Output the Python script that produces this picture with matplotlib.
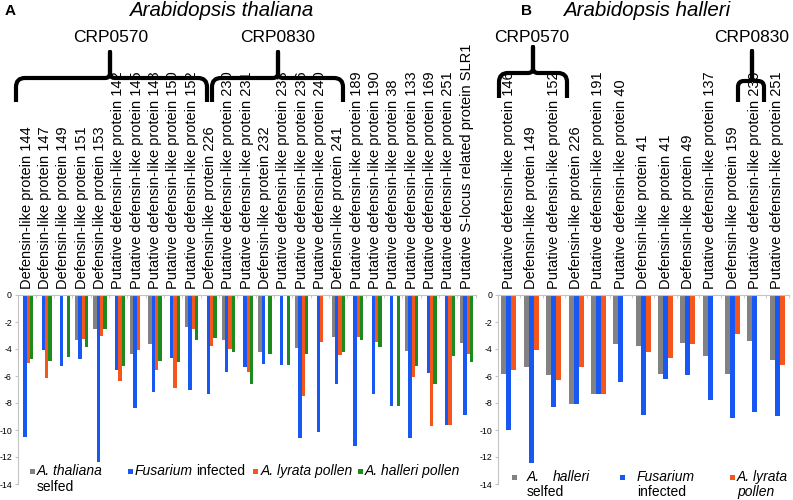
import numpy as np
import matplotlib.pyplot as plt
from matplotlib.patches import Rectangle, PathPatch
from matplotlib.path import Path

plt.rcParams['font.family'] = ['Liberation Sans', 'DejaVu Sans']
plt.rcParams['axes.unicode_minus'] = False

# panel A: Arabidopsis thaliana
labels_a = ['Defensin-like protein 144', 'Defensin-like protein 147', 'Defensin-like protein 149',
            'Defensin-like protein 151', 'Defensin-like protein 153',
            'Putative defensin-like protein 142', 'Putative defensin-like protein 145',
            'Putative defensin-like protein 148', 'Putative defensin-like protein 150',
            'Putative defensin-like protein 152', 'Defensin-like protein 226',
            'Putative defensin-like protein 230', 'Putative defensin-like protein 231',
            'Defensin-like protein 232', 'Putative defensin-like protein 233',
            'Putative defensin-like protein 236', 'Putative defensin-like protein 240',
            'Defensin-like protein 241', 'Putative defensin-like protein 189',
            'Putative defensin-like protein 190', 'Putative defensin-like protein 38',
            'Putative defensin-like protein 133', 'Putative defensin-like protein 169',
            'Putative defensin-like protein 251', 'Putative S-locus related protein SLR1']
nan = np.nan
selfed_a = [nan, nan, nan, -3.3, -2.5, nan, -4.4, -3.65, nan, -2.4, nan, -3.3, nan,
            -4.25, nan, -3.95, nan, -3.13, nan, nan, nan, -4.12, nan, nan, -3.58]
fusarium_a = [-10.5, -4.07, -5.23, -4.77, -12.4, -5.56, -8.4, -7.16, -4.69, -7.06, -7.33, -5.68, -5.36,
              -5.1, -5.19, -10.6, -10.17, -6.59, -11.16, -7.33, -8.2, -10.6, -5.8, -9.63, -8.89]
lyrata_a = [-5.06, -6.17, nan, -3.26, -3.01, -6.37, -4.07, -5.56, -6.86, -2.5, -3.8, -4.02, -5.68,
            nan, nan, -7.46, -3.46, -4.44, -3.09, -3.5, nan, -6.07, -9.7, -9.63, -4.37]
halleri_a = [-4.77, -4.89, -4.59, -3.85, -2.54, -5.23, nan, -4.89, -4.94, -3.33, -3.2, -4.2, -6.6,
             -4.4, -5.19, -4.4, nan, -4.2, -3.33, -3.88, -8.2, -5.26, -6.6, -4.52, -4.94]

# panel B: Arabidopsis halleri
labels_b = ['Putative defensin-like protein 146', 'Defensin-like protein 149',
            'Putative defensin-like protein 152', 'Defensin-like protein 226',
            'Putative defensin-like protein 191', 'Putative defensin-like protein 40',
            'Defensin-like protein 41', 'Defensin-like protein 41', 'Defensin-like protein 49',
            'Putative defensin-like protein 137', 'Defensin-like protein 159',
            'Putative defensin-like protein 239', 'Putative defensin-like protein 251']
selfed_b = [-5.85, -5.31, -5.93, -8.1, -7.33, -3.63, -3.78, -5.85, -3.58, -4.52, -5.88, -3.41, -4.81]
fusarium_b = [-10.0, -12.47, -8.32, -8.07, -7.33, -6.42, -8.89, -6.25, -5.93, -7.78, -9.14, -8.64, -8.94]
lyrata_b = [-5.56, -4.1, -6.3, -5.31, -7.33, nan, -4.25, -4.64, -3.65, nan, -2.91, nan, -5.19]

GREY, BLUE, ORANGE, GREEN = '#828282', '#1858f2', '#f5561c', '#1c8a1c'
AXC = '#c4c4c4'

W, H = 793, 500
fig = plt.figure(figsize=(W / 100, H / 100), dpi=100)

def fx(x):
    return x / W

def fy(y):
    return 1 - y / H

ax_a = fig.add_axes([fx(17.5), fy(484), (475.8 - 17.5) / W, (484 - 295) / H])
ax_b = fig.add_axes([fx(497.8), fy(484), (788.5 - 497.8) / W, (484 - 295) / H])

def setup(ax, labels):
    n = len(labels)
    ax.set_xlim(-0.5, n - 0.5)
    ax.set_ylim(-14, 0)
    ax.xaxis.tick_top()
    ax.set_xticks(range(n))
    ax.set_xticklabels(labels, rotation=90, fontsize=10.5)
    ax.set_xticks(np.arange(n + 1) - 0.5, minor=True)
    ax.tick_params(axis='x', which='major', length=0, pad=4)
    ax.tick_params(axis='x', which='minor', length=2.5, color=AXC, direction='in')
    ax.set_yticks(np.arange(-14, 1, 2))
    ax.tick_params(axis='y', labelsize=6.3, length=2.5, color=AXC, pad=1.5)
    for s in ['bottom', 'right']:
        ax.spines[s].set_visible(False)
    for s in ['top', 'left']:
        ax.spines[s].set_color(AXC)
        ax.spines[s].set_linewidth(0.8)

setup(ax_a, labels_a)
setup(ax_b, labels_b)

xa = np.arange(len(labels_a))
wa = 0.18
for k, (vals, c) in enumerate([(selfed_a, GREY), (fusarium_a, BLUE), (lyrata_a, ORANGE), (halleri_a, GREEN)]):
    ax_a.bar(xa + (k - 1.5) * wa, vals, wa, color=c, linewidth=0)

xb = np.arange(len(labels_b))
wb = 0.224
for k, (vals, c) in enumerate([(selfed_b, GREY), (fusarium_b, BLUE), (lyrata_b, ORANGE)]):
    ax_b.bar(xb + (k - 1) * wb, vals, wb, color=c, linewidth=0)

# titles and group labels
fig.text(fx(5), fy(11), 'A', weight='bold', fontsize=11, ha='left', va='center')
fig.text(fx(221), fy(11), 'Arabidopsis thaliana', style='italic', fontsize=14.8, ha='center', va='center')
fig.text(fx(527), fy(11), 'B', weight='bold', fontsize=11, ha='center', va='center')
fig.text(fx(647), fy(11), 'Arabidopsis halleri', style='italic', fontsize=14.8, ha='center', va='center')
for x, s in [(111, 'CRP0570'), (278, 'CRP0830'), (532, 'CRP0570'), (752, 'CRP0830')]:
    fig.text(fx(x), fy(37), s, fontsize=12.5, ha='center', va='center')

def brace(x0, x1, xc, yh, ybot, ypeak, r=9, rc=5):
    pts = [(x0, ybot), (x0, yh + r), (x0, yh), (x0 + r, yh), (xc - rc, yh),
           (xc, yh), (xc, yh - rc), (xc, ypeak), (xc, yh - rc), (xc, yh), (xc + rc, yh),
           (x1 - r, yh), (x1, yh), (x1, yh + r), (x1, ybot)]
    codes = [Path.MOVETO, Path.LINETO, Path.CURVE3, Path.CURVE3, Path.LINETO,
             Path.CURVE3, Path.CURVE3, Path.LINETO, Path.LINETO, Path.CURVE3, Path.CURVE3,
             Path.LINETO, Path.CURVE3, Path.CURVE3, Path.LINETO]
    verts = [(fx(x), fy(y)) for x, y in pts]
    fig.add_artist(PathPatch(Path(verts, codes), transform=fig.transFigure, fill=False,
                             lw=3, edgecolor='black', capstyle='butt', joinstyle='round'))

brace(16, 207, 110, 78, 102, 52)
brace(212, 343, 278, 78, 102, 52)
brace(499, 567, 533, 73, 98, 47)
brace(738, 764, 752, 81, 102, 51, r=6, rc=4)

# legends
def square(x, y, c):
    fig.add_artist(Rectangle((fx(x), fy(y + 2.5)), 5 / W, 5 / H, transform=fig.transFigure,
                             color=c, linewidth=0))

lf = 10
square(30, 471, GREY)
fig.text(fx(37), fy(471), 'A. thaliana', style='italic', fontsize=lf, va='center')
fig.text(fx(37), fy(487), 'selfed', fontsize=lf, va='center')
square(128, 471, BLUE)
fig.text(fx(135), fy(471), 'Fusarium', style='italic', fontsize=lf, va='center')
fig.text(fx(196), fy(471), 'infected', fontsize=lf, va='center')
square(253, 471, ORANGE)
fig.text(fx(261), fy(471), 'A. lyrata pollen', style='italic', fontsize=lf, va='center')
square(358, 471, GREEN)
fig.text(fx(365), fy(471), 'A. halleri pollen', style='italic', fontsize=lf, va='center')

square(512, 477, GREY)
fig.text(fx(527), fy(477), 'A.', style='italic', fontsize=lf, va='center')
fig.text(fx(553), fy(477), 'halleri', style='italic', fontsize=lf, va='center')
fig.text(fx(527), fy(492), 'selfed', fontsize=lf, va='center')
square(620, 477, BLUE)
fig.text(fx(637), fy(477), 'Fusarium', style='italic', fontsize=lf, va='center')
fig.text(fx(637), fy(492), 'infected', fontsize=lf, va='center')
square(730, 477, ORANGE)
fig.text(fx(737), fy(477), 'A. lyrata', style='italic', fontsize=lf, va='center')
fig.text(fx(737), fy(492), 'pollen', style='italic', fontsize=lf, va='center')

fig.savefig('out.png', dpi=100)
